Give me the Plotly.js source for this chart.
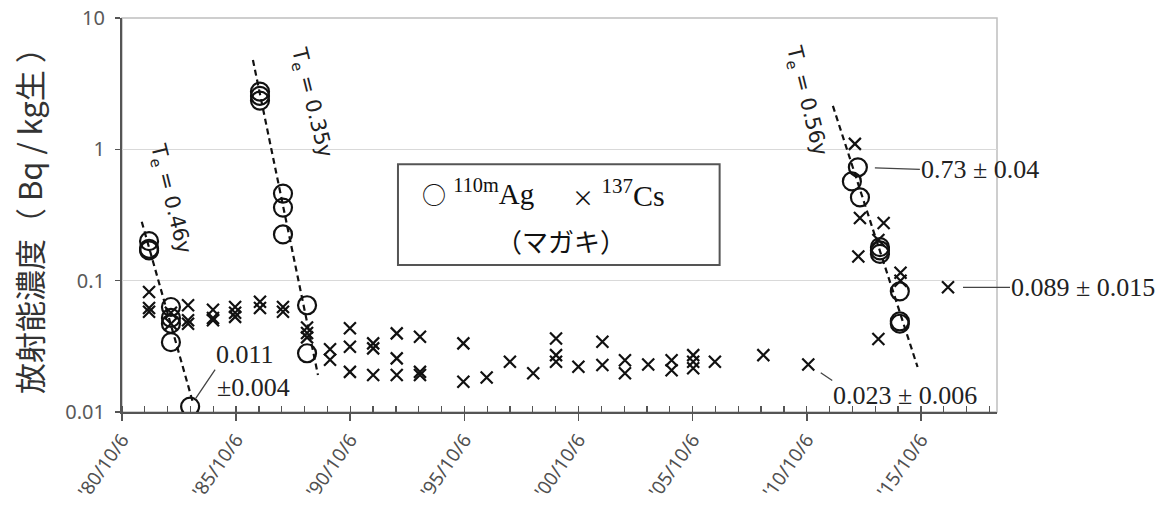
<!DOCTYPE html>
<html>
<head>
<meta charset="utf-8">
<script src="https://cdn.plot.ly/plotly-3.0.1.min.js"></script>
<style>html,body{margin:0;padding:0;background:#fff;}#chart{width:1159px;height:509px;}</style>
</head>
<body>
<div id="chart"></div>
<script>
// ---- data ----
const agDates = ['1981-12-13','1981-12-13','1981-12-13',
  '1982-11-28','1982-11-28','1982-11-28','1982-11-28','1983-10-01',
  '1986-10-23','1986-10-23','1986-10-23',
  '1987-10-26','1987-10-26','1987-10-26',
  '1988-11-14','1988-11-14',
  '2012-09-27','2013-01-01','2013-02-03',
  '2013-12-20','2013-12-20','2013-12-20',
  '2014-11-03','2014-11-03','2014-11-03'];
const agValues = [0.20,0.175,0.17,
  0.063,0.052,0.047,0.034,0.011,
  2.75,2.55,2.35,
  0.46,0.36,0.225,
  0.065,0.028,
  0.57,0.73,0.43,
  0.18,0.17,0.16,
  0.083,0.049,0.047];

const csDates = ['1981-12-13','1981-12-13','1981-12-13',
  '1982-11-28','1982-11-28',
  '1983-08-29','1983-08-29','1983-08-29',
  '1984-10-01','1984-10-01','1984-10-01',
  '1985-09-20','1985-09-20','1985-09-20',
  '1986-10-23','1986-10-23',
  '1987-10-26','1987-10-26',
  '1988-11-14','1988-11-14','1988-11-14',
  '1989-11-17','1989-11-17',
  '1990-10-01','1990-10-01','1990-10-01',
  '1991-10-08','1991-10-08','1991-10-08',
  '1992-10-19','1992-10-19','1992-10-19',
  '1993-10-26','1993-10-26','1993-10-26',
  '1995-09-20','1995-09-20',
  '1996-09-27','1997-10-04','1998-10-12',
  '1999-10-12','1999-10-12','1999-10-12',
  '2000-10-04','2001-10-23','2001-10-23',
  '2002-10-19','2002-10-19','2003-10-26',
  '2004-11-03','2004-11-03',
  '2005-10-15','2005-10-15','2005-10-15',
  '2006-09-27','2008-11-10','2010-10-30',
  '2012-11-14','2013-01-08','2013-02-03',
  '2013-11-25','2013-11-25','2014-02-17',
  '2014-11-14','2014-11-14','2016-12-13'];
const csValues = [0.082,0.062,0.058,
  0.057,0.047,
  0.065,0.050,0.047,
  0.060,0.052,0.050,
  0.063,0.057,0.053,
  0.069,0.062,
  0.063,0.058,
  0.044,0.040,0.037,
  0.030,0.025,
  0.0434,0.0314,0.0202,
  0.0333,0.0305,0.0191,
  0.0397,0.0256,0.0191,
  0.0374,0.0202,0.0191,
  0.0333,0.0170,
  0.0183,0.0241,0.0197,
  0.0363,0.0271,0.0241,
  0.0221,0.0343,0.0228,
  0.0248,0.0197,0.0230,
  0.0248,0.0208,
  0.0271,0.0241,0.0215,
  0.0241,0.0271,0.023,
  1.10,0.153,0.30,
  0.204,0.036,0.275,
  0.115,0.100,0.089];

// effective half-life fit lines (start / end)
const fit1Dates = ['1981-08-18','1983-11-17'], fit1Values = [0.281,0.0117];
const fit2Dates = ['1986-07-02','1989-05-08'], fit2Values = [4.79,0.0191];
const fit3Dates = ['2011-11-28','2015-08-14'], fit3Values = [2.14,0.022];

const teTexts  = ['T<sub>e</sub> = 0.46y','T<sub>e</sub> = 0.35y','T<sub>e</sub> = 0.56y'];
const teDates  = ['1982-11-13','1989-01-19','2010-09-24'];
const teValues = [0.425,2.29,2.37];

const labelTexts  = ['0.011','±0.004','0.73 ± 0.04','0.089 ± 0.015','0.023 ± 0.006'];
const labelDates  = ['1983-10-01','1983-10-01','2013-01-01','2016-12-13','2010-10-30'];
const labelValues = [0.011,0.011,0.73,0.089,0.023];

const tickDates  = ['1980-10-06','1985-10-06','1990-10-06','1995-10-06','2000-10-06','2005-10-06','2010-10-06','2015-10-06'];
const tickLabels = ["'80/10/6","'85/10/6","'90/10/6","'95/10/6","'00/10/6","'05/10/6","'10/10/6","'15/10/6"];
const yTickVals  = [0.01,0.1,1,10];
const yTickText  = ['0.01','0.1','1','10'];

// ---- traces ----
const ink = '#111';
const dashLine = {color: ink, width: 2.2, dash: '6px,4px'};
const traces = [
  {x: fit1Dates, y: fit1Values, mode: 'lines', line: dashLine, hoverinfo: 'skip'},
  {x: fit2Dates, y: fit2Values, mode: 'lines', line: dashLine, hoverinfo: 'skip'},
  {x: fit3Dates, y: fit3Values, mode: 'lines', line: dashLine, hoverinfo: 'skip'},
  {x: csDates, y: csValues, mode: 'markers', name: '137Cs',
   marker: {symbol: 'x-thin', size: 12, line: {color: ink, width: 2.2}}},
  {x: agDates, y: agValues, mode: 'markers', name: '110mAg',
   marker: {symbol: 'circle-open', size: 18, color: ink, line: {color: ink, width: 2.2}}}
];

// ---- annotations ----
const annotations = [];
for (let i = 0; i < teTexts.length; i++) {
  annotations.push({x: teDates[i], y: Math.log10(teValues[i]), xref: 'x', yref: 'y',
    text: teTexts[i], showarrow: false, textangle: 76,
    font: {family: 'DejaVu Sans', size: 21, color: '#222'}});
}
// label placement: [arrow?, ax, ay, xanchor, yanchor, standoff, xshift, yshift]
const lblPlace = [
  [true, 25, -37, 'left', 'bottom', 10, 0, 0],
  [false, 0, 0, 'left', 'middle', 0, 26, 19],
  [true, 62, 2, 'left', 'middle', 17, 0, 0],
  [true, 62, 0, 'left', 'middle', 15, 0, 0],
  [true, 24, 16, 'left', 'top', 15, 0, 0]
];
for (let i = 0; i < labelTexts.length; i++) {
  const p = lblPlace[i];
  annotations.push({x: labelDates[i], y: Math.log10(labelValues[i]), xref: 'x', yref: 'y',
    text: labelTexts[i], showarrow: p[0], arrowhead: 0, arrowwidth: 1.3, arrowcolor: '#444',
    ax: p[1], ay: p[2], standoff: p[5], xanchor: p[3], yanchor: p[4], align: 'left',
    xshift: p[6], yshift: p[7], borderpad: 0,
    font: {family: 'Liberation Serif', size: 26, color: '#222'}});
}
// legend text
annotations.push({xref: 'paper', yref: 'paper', x: 0.3406, y: 0.556, xanchor: 'left', yanchor: 'middle',
  text: '<span style="font-family:Noto Sans CJK JP;font-size:24px">○</span> <sup>110m</sup>Ag', showarrow: false,
  font: {family: 'Liberation Serif', size: 29, color: '#111'}});
annotations.push({xref: 'paper', yref: 'paper', x: 0.512, y: 0.556, xanchor: 'left', yanchor: 'middle',
  text: '<span style="font-family:Noto Sans CJK JP;font-size:22px">×</span> <sup>137</sup>Cs', showarrow: false,
  font: {family: 'Liberation Serif', size: 30, color: '#111'}});
annotations.push({xref: 'paper', yref: 'paper', x: 0.5017, y: 0.4365, xanchor: 'center', yanchor: 'middle',
  text: '（マガキ）', showarrow: false, font: {family: 'Noto Sans CJK JP', size: 26, color: '#111'}});
// y-axis title
annotations.push({xref: 'paper', yref: 'paper', x: -0.1074, y: 0.505, xanchor: 'center', yanchor: 'middle',
  text: '放射能濃度（ Bq / kg生 ）', textangle: -90, showarrow: false,
  font: {family: 'Noto Sans CJK JP', size: 31, color: '#333'}});

// ---- shapes ----
const shapes = [
  {type: 'rect', xref: 'paper', yref: 'paper', x0: 0, x1: 1, y0: 0, y1: 1,
   line: {color: '#bfbfbf', width: 1.5}, layer: 'below'},
  {type: 'rect', xref: 'paper', yref: 'paper', x0: 0.3154, x1: 0.683, y0: 0.373, y1: 0.629,
   line: {color: '#555', width: 2}, fillcolor: 'rgba(0,0,0,0)'}
];

const xRange = ['1980-10-06','2019-02-05'];
const layout = {
  width: 1159, height: 509,
  margin: {l: 122, r: 162, t: 18, b: 97},
  paper_bgcolor: '#fff', plot_bgcolor: '#fff',
  showlegend: false,
  xaxis: {
    type: 'date', range: xRange,
    tickmode: 'array', tickvals: tickDates, ticktext: tickLabels,
    tickangle: -55, ticks: 'outside', ticklen: 7, tickwidth: 1.5, tickcolor: '#555',
    showline: true, linecolor: '#555', linewidth: 2, showgrid: false, zeroline: false,
    tickfont: {family: 'Noto Sans', size: 19, color: '#505050'},
    minor: {ticks: 'inside', dtick: 'M12', tick0: '1980-10-06', ticklen: 6, tickwidth: 1.3, tickcolor: '#555', showgrid: false}
  },
  xaxis2: {
    type: 'date', range: xRange, overlaying: 'x', anchor: 'y', side: 'bottom',
    tickmode: 'array', tickvals: tickDates, showticklabels: false,
    ticks: 'inside', ticklen: 7, tickwidth: 1.5, tickcolor: '#555',
    showline: false, showgrid: false, zeroline: false
  },
  yaxis: {
    type: 'log', range: [-2, 1],
    tickmode: 'array', tickvals: yTickVals, ticktext: yTickText,
    ticks: 'outside', ticklen: 5, tickwidth: 1.3, tickcolor: '#555',
    showline: true, linecolor: '#555', linewidth: 2,
    showgrid: true, gridcolor: '#d9d9d9', gridwidth: 1.5, zeroline: false,
    tickfont: {family: 'Noto Sans', size: 20, color: '#595959'},
    ticklabelstandoff: 6
  },
  annotations: annotations,
  shapes: shapes
};

Plotly.newPlot('chart', traces, layout, {displayModeBar: false, staticPlot: true});
</script>
</body>
</html>
